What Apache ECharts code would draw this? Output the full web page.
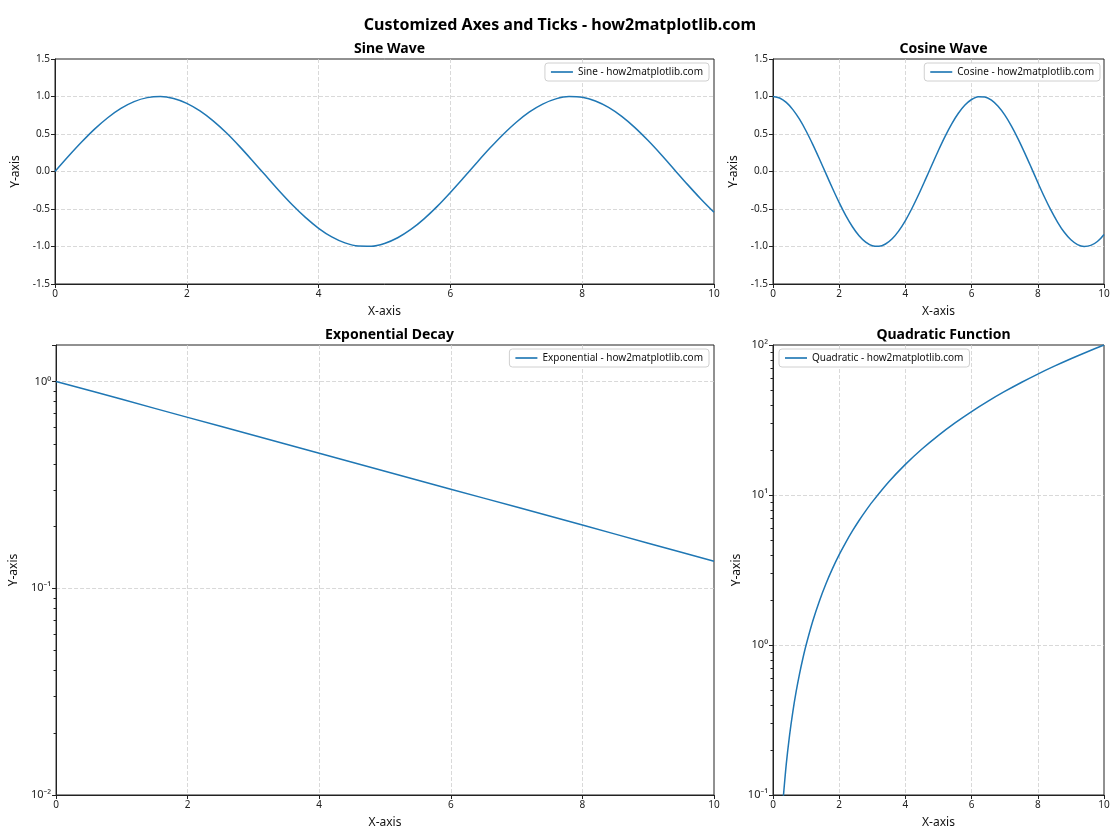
<!DOCTYPE html>
<html><head><meta charset="utf-8">
<script src="https://cdn.jsdelivr.net/npm/echarts@6/dist/echarts.min.js"></script>
<style>html,body{margin:0;padding:0;background:#fff}#c{width:1120px;height:840px}</style>
</head><body><div id="c"></div>
<script>
const xTrig = [0,0.2,0.4,0.6,0.8,1.0,1.2,1.4,1.6,1.8,2.0,2.2,2.4,2.6,2.8,3.0,3.2,3.4,3.6,3.8,4.0,4.2,4.4,4.6,4.8,5.0,5.2,5.4,5.6,5.8,6.0,6.2,6.4,6.6,6.8,7.0,7.2,7.4,7.6,7.8,8.0,8.2,8.4,8.6,8.8,9.0,9.2,9.4,9.6,9.8,10.0];
const sineVals = [0,0.199,0.389,0.565,0.717,0.841,0.932,0.985,1.000,0.974,0.909,0.808,0.675,0.516,0.335,0.141,-0.058,-0.256,-0.443,-0.612,-0.757,-0.872,-0.952,-0.994,-0.996,-0.959,-0.883,-0.773,-0.631,-0.465,-0.279,-0.083,0.117,0.312,0.494,0.657,0.794,0.899,0.968,0.999,0.989,0.941,0.855,0.735,0.585,0.412,0.223,0.024,-0.175,-0.366,-0.544];
const cosineVals = [1,0.980,0.921,0.825,0.697,0.540,0.362,0.170,-0.029,-0.227,-0.416,-0.589,-0.737,-0.857,-0.942,-0.990,-0.998,-0.967,-0.897,-0.791,-0.654,-0.490,-0.307,-0.112,0.087,0.284,0.469,0.635,0.776,0.886,0.960,0.997,0.994,0.951,0.869,0.754,0.608,0.439,0.252,0.055,-0.146,-0.340,-0.519,-0.677,-0.811,-0.911,-0.975,-0.999,-0.985,-0.933,-0.839];
const xExp = [0,1,2,3,4,5,6,7,8,9,10];
const expVals = [1,0.819,0.670,0.549,0.449,0.368,0.301,0.247,0.202,0.165,0.135];
const xQuad = [0.3,0.4,0.5,0.6,0.7,0.8,0.9,1.0,1.2,1.4,1.6,1.8,2.0,2.2,2.4,2.6,2.8,3.0,3.5,4.0,4.5,5.0,5.5,6.0,6.5,7.0,7.5,8.0,8.5,9.0,9.5,10.0];
const quadVals = [0.09,0.16,0.25,0.36,0.49,0.64,0.81,1.0,1.44,1.96,2.56,3.24,4.0,4.84,5.76,6.76,7.84,9.0,12.25,16.0,20.25,25.0,30.25,36.0,42.25,49.0,56.25,64.0,72.25,81.0,90.25,100.0];
const minorExp = [0.02,0.03,0.04,0.05,0.06,0.07,0.08,0.09,0.2,0.3,0.4,0.5,0.6,0.7,0.8,0.9];
const minorQuad = [0.2,0.3,0.4,0.5,0.6,0.7,0.8,0.9,2,3,4,5,6,7,8,9,20,30,40,50,60,70,80,90];
const titles = ['Sine Wave','Cosine Wave','Exponential Decay','Quadratic Function'];
const names = ['Sine - how2matplotlib.com','Cosine - how2matplotlib.com','Exponential - how2matplotlib.com','Quadratic - how2matplotlib.com'];
const mainTitle = 'Customized Axes and Ticks - how2matplotlib.com';

const FONT = 'Noto Sans';
const C = '#1f77b4';
const grids = [
  {left:55, top:59, width:659, height:225},
  {left:773, top:59, width:331, height:225},
  {left:55, top:345, width:659, height:450},
  {left:773, top:345, width:331, height:450}
];
const sup = {'-':'\u207B','0':'\u2070','1':'\u00B9','2':'\u00B2','3':'\u00B3','4':'\u2074','5':'\u2075'};
function logFmt(v){
  const l = Math.log10(v), e = Math.round(l);
  if (Math.abs(l-e) > 1e-6) return '';
  return '10' + String(e).split('').map(c=>sup[c]).join('');
}
const split = {show:true, showMinLine:false, showMaxLine:false, lineStyle:{color:'#cfcfcf', type:[4,2], width:0.8}};
function xAxis(i){
  return {type:'value', gridIndex:i, min:0, max:10, interval:2,
    name:'X-axis', nameLocation:'middle', nameGap:22,
    nameTextStyle:{fontFamily:FONT, fontSize:12, color:'#111'},
    axisLine:{show:true, onZero:false, lineStyle:{color:'#222', width:1}},
    axisTick:{show:true, length:4, lineStyle:{color:'#222'}},
    axisLabel:{fontFamily:FONT, fontSize:10, color:'#222', margin:5},
    splitLine:split};
}
function yLin(i){
  return {type:'value', gridIndex:i, min:-1.5, max:1.5, interval:0.5,
    name:'Y-axis', nameLocation:'middle', nameGap:33,
    nameTextStyle:{fontFamily:FONT, fontSize:12, color:'#111'},
    axisLine:{show:true, onZero:false, lineStyle:{color:'#222', width:1}},
    axisTick:{show:true, length:4, lineStyle:{color:'#222'}},
    axisLabel:{fontFamily:FONT, fontSize:10, color:'#222', margin:5, formatter:v=>v.toFixed(1)},
    splitLine:split};
}
function yLog(i, mn, mx, gap){
  return {type:'log', logBase:10, gridIndex:i, min:mn, max:mx,
    name:'Y-axis', nameLocation:'middle', nameGap:gap,
    nameTextStyle:{fontFamily:FONT, fontSize:12, color:'#111'},
    axisLine:{show:true, onZero:false, lineStyle:{color:'#222', width:1}},
    axisTick:{show:true, length:4, lineStyle:{color:'#222'}},
    axisLabel:{fontFamily:FONT, fontSize:11, color:'#222', margin:5, formatter:logFmt},
    splitLine:split};
}
function pairs(xs, ys){ return xs.map((x,k)=>[x, ys[k]]); }
function lineSeries(i, xs, ys){
  return {type:'line', name:names[i], xAxisIndex:i, yAxisIndex:i, data:pairs(xs,ys),
    symbol:'none', smooth:0.3, clip:true, lineStyle:{color:C, width:1.5}, itemStyle:{color:C}};
}
function minorSeries(i, vals){
  return {type:'custom', xAxisIndex:i, yAxisIndex:i, silent:true, clip:false, z:5,
    data: vals.map(v=>[0, v]),
    renderItem:(p, api)=>{
      const pt = api.coord([api.value(0), api.value(1)]);
      return {type:'line', shape:{x1:pt[0]-2.5, y1:Math.round(pt[1])+0.5, x2:pt[0], y2:Math.round(pt[1])+0.5}, style:{stroke:'#222', lineWidth:1}};
    }};
}
function legend(i, pos){
  return Object.assign({data:[{name:names[i], icon:'path://M0,0L20,0L20,1.5L0,1.5Z'}], itemWidth:22, itemHeight:2, itemGap:5,
    orient:'vertical', backgroundColor:'#fff', borderColor:'#d0d0d0', borderWidth:1, borderRadius:3, padding:[4,6,4,6],
    textStyle:{fontFamily:FONT, fontSize:10, color:'#111'}, selectedMode:false}, pos);
}
const titleArr = [{text:mainTitle, left:'center', top:12, textStyle:{fontFamily:FONT, fontSize:16, fontWeight:'bold', color:'#000'}}];
grids.forEach((g,i)=>titleArr.push({text:titles[i], left:g.left+g.width/2, textAlign:'center', top:g.top-22,
  textStyle:{fontFamily:FONT, fontSize:14, fontWeight:'bold', color:'#000'}}));

const option = {
  animation:false,
  backgroundColor:'#fff',
  title:titleArr,
  grid:grids.map(g=>Object.assign({show:true, borderColor:'#222', borderWidth:1, backgroundColor:'transparent'}, g)),
  legend:[legend(0,{right:411, top:63}), legend(1,{right:20, top:63}), legend(2,{right:411, top:349}), legend(3,{left:779, top:349})],
  xAxis:[xAxis(0), xAxis(1), xAxis(2), xAxis(3)],
  yAxis:[yLin(0), yLin(1), yLog(2, 0.01, 1.5, 30), yLog(3, 0.1, 100, 30)],
  series:[
    lineSeries(0, xTrig, sineVals),
    lineSeries(1, xTrig, cosineVals),
    lineSeries(2, xExp, expVals),
    lineSeries(3, xQuad, quadVals),
    minorSeries(2, minorExp),
    minorSeries(3, minorQuad)
  ]
};
const chart = echarts.init(document.getElementById('c'), null, {renderer:'canvas'});
chart.setOption(option);
</script></body></html>
